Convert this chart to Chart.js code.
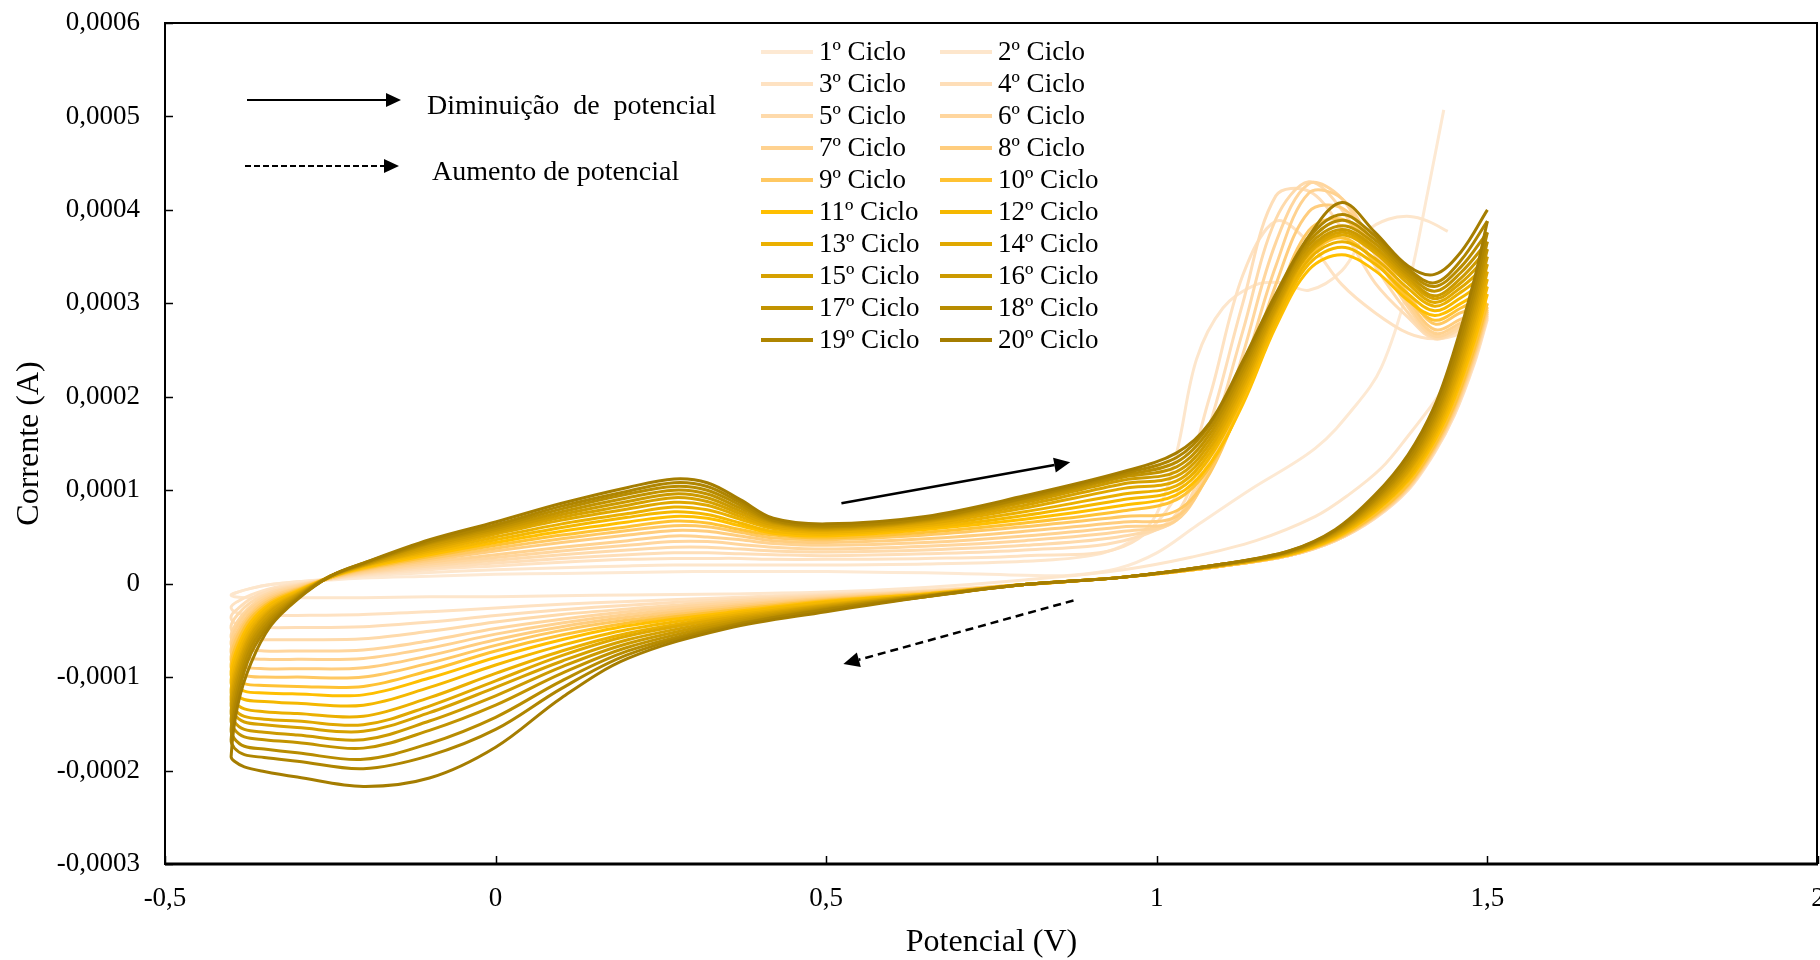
<!DOCTYPE html>
<html>
<head>
<meta charset="utf-8">
<title>Voltametria cíclica - 20 ciclos</title>
<script src="https://cdn.jsdelivr.net/npm/chart.js@4.4.1/dist/chart.umd.min.js"></script>
<style>
  html, body { margin: 0; padding: 0; background: #fff; }
  #grafico { display: block; }
</style>
</head>
<body>
<canvas id="grafico" width="1820" height="960"></canvas>
<script>
// Potenciais (V) da varredura de ida e de volta, comuns aos ciclos 3 a 20
const potencialIda = [-0.40, -0.39, -0.37, -0.34, -0.30, -0.25, -0.20, -0.10, 0.00, 0.10, 0.20, 0.27, 0.32, 0.37, 0.42, 0.50, 0.65, 0.80, 0.95, 1.03, 1.08, 1.13, 1.18, 1.23, 1.28, 1.33, 1.38, 1.42, 1.46, 1.50];
const potencialVolta = [1.50, 1.48, 1.45, 1.42, 1.38, 1.33, 1.27, 1.20, 1.10, 0.95, 0.80, 0.65, 0.50, 0.35, 0.20, 0.10, 0.00, -0.10, -0.20, -0.30, -0.35, -0.38, -0.395];

// Ciclos 1 e 2 têm pontos próprios
const potencialIda01 = [-0.40, -0.39, -0.37, -0.34, -0.30, -0.25, -0.20, -0.10, 0.00, 0.10, 0.20, 0.30, 0.40, 0.50, 0.60, 0.70, 0.80, 0.87, 0.94, 1.00, 1.06, 1.14, 1.24, 1.30, 1.34, 1.38, 1.41, 1.434];
const potencialVolta02 = [1.50, 1.48, 1.45, 1.42, 1.38, 1.34, 1.29, 1.24, 1.15, 1.05, 0.95, 0.80, 0.65, 0.50, 0.35, 0.20, 0.10, 0.00, -0.10, -0.20, -0.30, -0.35, -0.38, -0.395];
const potencialIda02 = [-0.40, -0.39, -0.37, -0.34, -0.30, -0.25, -0.20, -0.10, 0.00, 0.10, 0.20, 0.27, 0.35, 0.42, 0.50, 0.65, 0.80, 0.90, 0.96, 1.00, 1.03, 1.06, 1.10, 1.15, 1.19, 1.23, 1.28, 1.32, 1.35, 1.383, 1.41, 1.44];

// Corrente em microampères
const ida01 = [-12, -9, -5, -1, 2, 4, 6, 8, 10, 11, 12, 13, 13, 13, 12, 11, 9, 9, 16, 33, 62, 100, 145, 190, 232, 318, 420, 507];
const volta02 = [300, 268, 228, 195, 158, 124, 95, 72, 46, 28, 15, 4, -4, -9, -11, -12, -13, -14, -14, -15, -15, -15, -15, -14];
const ida02 = [-12, -9, -5, -1, 2, 5, 8, 12, 15, 17, 19, 20, 20, 20, 20, 21, 24, 30, 45, 75, 140, 240, 295, 320, 322, 314, 335, 378, 390, 393, 388, 377];

const volta03 = [283, 235, 180, 140, 100, 70, 46, 30, 19, 7, -1, -7, -11, -15, -19, -22, -26, -30, -33, -34, -34, -33, -30];
const ida03 = [-25, -19, -12, -5, 0, 5, 9, 15, 19, 23, 26, 27, 27, 27, 26, 26, 27, 30, 40, 95, 200, 330, 388, 365, 320, 290, 268, 262, 268, 285];
const volta04 = [285, 237, 181, 141, 101, 70, 46, 30, 19, 7, -1, -8, -12, -17, -23, -28, -34, -41, -46, -47, -47, -46, -42];
const ida04 = [-35, -27, -16, -7, -1, 5, 10, 17, 22, 27, 31, 33, 33, 32, 31, 30, 32, 36, 46, 75, 170, 300, 415, 420, 380, 322, 285, 262, 272, 287];
const volta05 = [287, 239, 183, 142, 102, 71, 46, 30, 19, 7, -1, -8, -13, -19, -27, -33, -41, -51, -59, -60, -60, -59, -54];
const ida05 = [-45, -33, -20, -9, -2, 5, 11, 19, 25, 31, 36, 39, 39, 37, 35, 34, 36, 41, 51, 70, 150, 270, 390, 430, 400, 340, 290, 263, 273, 289];
const volta06 = [289, 241, 184, 143, 102, 71, 46, 30, 19, 7, -1, -9, -14, -21, -30, -38, -48, -61, -71, -72, -72, -70, -64];
const ida06 = [-55, -40, -24, -11, -3, 6, 12, 21, 28, 35, 41, 45, 45, 42, 39, 37, 40, 46, 56, 68, 135, 245, 365, 428, 412, 352, 296, 265, 276, 291];
const volta07 = [291, 243, 185, 144, 103, 72, 47, 30, 19, 7, -1, -9, -15, -23, -33, -42, -54, -69, -80, -81, -81, -79, -72];
const ida07 = [-62, -45, -27, -13, -4, 6, 13, 23, 31, 39, 46, 51, 50, 47, 43, 41, 44, 51, 61, 68, 125, 225, 340, 418, 412, 358, 300, 268, 279, 293];
const volta08 = [293, 245, 187, 145, 104, 72, 47, 30, 19, 7, -1, -10, -16, -25, -36, -46, -60, -77, -90, -91, -91, -89, -82];
const ida08 = [-70, -51, -31, -15, -5, 6, 14, 25, 35, 44, 52, 57, 56, 51, 46, 44, 48, 56, 66, 72, 120, 210, 320, 398, 402, 360, 305, 272, 283, 296];
const volta09 = [296, 247, 189, 146, 105, 73, 47, 31, 19, 7, -1, -10, -17, -27, -39, -50, -66, -85, -100, -100, -100, -98, -90];
const ida09 = [-78, -56, -34, -17, -6, 6, 15, 27, 38, 48, 57, 62, 61, 55, 49, 47, 52, 61, 72, 78, 118, 200, 300, 378, 390, 358, 310, 278, 290, 300];
const volta10 = [300, 251, 191, 148, 106, 74, 48, 31, 19, 7, -1, -11, -18, -29, -42, -55, -72, -93, -110, -110, -109, -107, -99];
const ida10 = [-86, -62, -37, -19, -7, 7, 16, 29, 41, 52, 61, 67, 65, 58, 52, 49, 55, 65, 78, 90, 125, 195, 285, 350, 370, 345, 305, 282, 295, 310];
const volta11 = [310, 259, 198, 153, 110, 77, 49, 31, 20, 7, -1, -11, -19, -31, -45, -60, -79, -101, -119, -118, -117, -115, -107];
const ida11 = [-94, -68, -41, -21, -8, 7, 17, 31, 44, 56, 66, 72, 70, 62, 54, 51, 58, 69, 84, 95, 128, 192, 275, 336, 352, 335, 303, 287, 300, 318];
const volta12 = [318, 266, 203, 157, 112, 78, 50, 32, 20, 7, -1, -12, -20, -33, -49, -66, -87, -111, -130, -128, -126, -124, -116];
const ida12 = [-103, -74, -45, -23, -9, 7, 18, 33, 47, 60, 71, 77, 74, 65, 56, 53, 60, 73, 90, 100, 135, 200, 280, 342, 360, 342, 310, 292, 306, 326];
const volta13 = [326, 273, 209, 160, 115, 80, 51, 32, 20, 7, -1, -12, -22, -35, -53, -72, -96, -122, -142, -139, -137, -134, -126];
const ida13 = [-113, -81, -49, -26, -10, 7, 19, 35, 50, 64, 75, 82, 79, 69, 59, 55, 62, 77, 96, 105, 140, 205, 285, 347, 366, 348, 316, 297, 312, 334];
const volta14 = [334, 280, 214, 164, 119, 82, 52, 33, 20, 7, -1, -12, -23, -37, -56, -77, -104, -131, -151, -147, -145, -142, -134];
const ida14 = [-121, -87, -53, -28, -11, 7, 19, 37, 53, 68, 80, 87, 84, 72, 61, 57, 64, 81, 102, 110, 145, 210, 290, 353, 373, 354, 321, 301, 317, 342];
const volta15 = [342, 287, 219, 168, 121, 84, 53, 33, 20, 7, -1, -13, -24, -39, -60, -83, -111, -138, -158, -154, -151, -148, -140];
const ida15 = [-128, -92, -56, -30, -12, 8, 20, 39, 55, 71, 84, 92, 88, 75, 63, 58, 66, 84, 107, 115, 150, 215, 293, 355, 376, 357, 325, 305, 322, 350];
const volta16 = [350, 294, 225, 172, 124, 86, 54, 33, 20, 7, -1, -13, -25, -41, -64, -89, -120, -147, -167, -162, -159, -156, -148];
const ida16 = [-136, -98, -60, -33, -13, 8, 20, 41, 57, 74, 88, 96, 92, 78, 65, 59, 67, 87, 111, 120, 155, 220, 296, 358, 379, 360, 328, 308, 327, 358];
const volta17 = [358, 301, 230, 176, 127, 88, 55, 34, 21, 7, -1, -13, -26, -43, -68, -96, -130, -157, -176, -170, -167, -164, -156];
const ida17 = [-145, -104, -64, -36, -14, 8, 21, 43, 59, 77, 92, 100, 96, 81, 66, 60, 68, 89, 114, 125, 160, 225, 300, 362, 383, 364, 331, 313, 333, 366];
const volta18 = [366, 308, 235, 180, 130, 90, 56, 34, 21, 7, -1, -14, -27, -45, -72, -104, -143, -171, -188, -181, -177, -174, -166];
const ida18 = [-156, -112, -69, -39, -15, 8, 21, 44, 61, 80, 96, 104, 100, 84, 67, 61, 69, 91, 116, 130, 165, 230, 304, 366, 389, 368, 334, 318, 339, 376];
const volta19 = [376, 316, 242, 185, 134, 92, 57, 35, 21, 7, -1, -14, -28, -46, -76, -112, -156, -184, -198, -190, -186, -183, -176];
const ida19 = [-167, -120, -75, -42, -16, 8, 22, 45, 63, 83, 99, 108, 104, 87, 68, 62, 70, 92, 118, 135, 170, 235, 306, 370, 395, 372, 337, 322, 346, 388];
const volta20 = [388, 325, 250, 190, 138, 95, 58, 35, 21, 7, -1, -14, -30, -48, -80, -122, -175, -208, -217, -207, -201, -196, -190];
const ida20 = [-185, -130, -85, -45, -17, 8, 22, 47, 66, 86, 103, 112, 108, 90, 70, 64, 72, 94, 120, 140, 172, 238, 310, 372, 408, 376, 340, 331, 355, 400];

const rotulos = ['1º Ciclo', '2º Ciclo', '3º Ciclo', '4º Ciclo', '5º Ciclo', '6º Ciclo', '7º Ciclo', '8º Ciclo', '9º Ciclo', '10º Ciclo',
  '11º Ciclo', '12º Ciclo', '13º Ciclo', '14º Ciclo', '15º Ciclo', '16º Ciclo', '17º Ciclo', '18º Ciclo', '19º Ciclo', '20º Ciclo'];
const cores = ['#FDE9D3', '#FDE6CC', '#FEE2C2', '#FEDEB8', '#FEDAAB', '#FFD69E', '#FFD290', '#FFCD7E', '#FFC862', '#FFC233',
  '#FFBF00', '#F5B800', '#EBB000', '#E0A800', '#D6A100', '#CC9A00', '#C29300', '#B88C00', '#AF8500', '#A57D00'];

const yTicks = [-0.0003, -0.0002, -0.0001, 0, 0.0001, 0.0002, 0.0003, 0.0004, 0.0005, 0.0006];
const xTicks = [-0.5, 0, 0.5, 1, 1.5, 2];

// setas de sentido da varredura, em coordenadas do gráfico (V, µA)
const setaIda = { de: [0.523, 86], ate: [0.869, 130] };
const setaVolta = { de: [0.874, -18], ate: [0.526, -86] };

// cada ciclo = volta (quando existe) seguida da ida
const ciclos = [
  [[potencialIda01, ida01]],
  [[potencialVolta02, volta02], [potencialIda02, ida02]],
  [[potencialVolta, volta03], [potencialIda, ida03]],
  [[potencialVolta, volta04], [potencialIda, ida04]],
  [[potencialVolta, volta05], [potencialIda, ida05]],
  [[potencialVolta, volta06], [potencialIda, ida06]],
  [[potencialVolta, volta07], [potencialIda, ida07]],
  [[potencialVolta, volta08], [potencialIda, ida08]],
  [[potencialVolta, volta09], [potencialIda, ida09]],
  [[potencialVolta, volta10], [potencialIda, ida10]],
  [[potencialVolta, volta11], [potencialIda, ida11]],
  [[potencialVolta, volta12], [potencialIda, ida12]],
  [[potencialVolta, volta13], [potencialIda, ida13]],
  [[potencialVolta, volta14], [potencialIda, ida14]],
  [[potencialVolta, volta15], [potencialIda, ida15]],
  [[potencialVolta, volta16], [potencialIda, ida16]],
  [[potencialVolta, volta17], [potencialIda, ida17]],
  [[potencialVolta, volta18], [potencialIda, ida18]],
  [[potencialVolta, volta19], [potencialIda, ida19]],
  [[potencialVolta, volta20], [potencialIda, ida20]]
];

function pontos(trechos) {
  const out = [];
  trechos.forEach(([xs, ys]) => xs.forEach((x, i) => out.push({ x: x, y: ys[i] * 1e-6 })));
  return out;
}

const datasets = ciclos.map((trechos, i) => ({
  label: rotulos[i],
  data: pontos(trechos),
  borderColor: cores[i],
  backgroundColor: cores[i],
  showLine: true,
  fill: false,
  pointRadius: 0,
  borderWidth: 3,
  tension: 0.35,
  order: ciclos.length - 1 - i
}));

const FONTE = 'Liberation Serif, "Times New Roman", serif';

function seta(ctx, x1, y1, x2, y2, tam, larg) {
  const ang = Math.atan2(y2 - y1, x2 - x1);
  const bx = x2 - Math.cos(ang) * tam, by = y2 - Math.sin(ang) * tam;
  ctx.beginPath();
  ctx.moveTo(x1, y1);
  ctx.lineTo(bx, by);
  ctx.stroke();
  ctx.save();
  ctx.setLineDash([]);
  ctx.beginPath();
  ctx.moveTo(x2, y2);
  ctx.lineTo(bx + Math.sin(ang) * larg / 2, by - Math.cos(ang) * larg / 2);
  ctx.lineTo(bx - Math.sin(ang) * larg / 2, by + Math.cos(ang) * larg / 2);
  ctx.closePath();
  ctx.fill();
  ctx.restore();
}

const moldura = {
  id: 'moldura',
  afterDraw(chart) {
    const { ctx, chartArea: a, scales: { x, y } } = chart;
    ctx.save();
    ctx.strokeStyle = '#000';
    ctx.fillStyle = '#000';

    // caixa da área do gráfico
    ctx.lineWidth = 2;
    ctx.strokeRect(a.left, a.top, a.right - a.left - 1, a.bottom - a.top);
    ctx.lineWidth = 3;
    ctx.beginPath();
    ctx.moveTo(a.left, a.bottom);
    ctx.lineTo(a.right, a.bottom);
    ctx.stroke();

    // marcas de escala para dentro
    ctx.lineWidth = 1.5;
    xTicks.forEach(v => {
      const px = Math.round(x.getPixelForValue(v)) + 0.5;
      ctx.beginPath();
      ctx.moveTo(px, a.bottom);
      ctx.lineTo(px, a.bottom - 8);
      ctx.stroke();
    });
    yTicks.forEach(v => {
      const py = Math.round(y.getPixelForValue(v)) + 0.5;
      ctx.beginPath();
      ctx.moveTo(a.left, py);
      ctx.lineTo(a.left + 8, py);
      ctx.stroke();
    });

    // setas dentro do gráfico
    ctx.lineWidth = 2.5;
    seta(ctx, x.getPixelForValue(setaIda.de[0]), y.getPixelForValue(setaIda.de[1] * 1e-6),
      x.getPixelForValue(setaIda.ate[0]), y.getPixelForValue(setaIda.ate[1] * 1e-6), 16, 15);
    ctx.setLineDash([8, 5]);
    seta(ctx, x.getPixelForValue(setaVolta.de[0]), y.getPixelForValue(setaVolta.de[1] * 1e-6),
      x.getPixelForValue(setaVolta.ate[0]), y.getPixelForValue(setaVolta.ate[1] * 1e-6), 16, 15);
    ctx.setLineDash([]);

    // quadro explicativo das setas
    ctx.lineWidth = 2;
    seta(ctx, 247, 100, 401, 100, 15, 14);
    ctx.setLineDash([6, 3]);
    seta(ctx, 245, 166, 399, 166, 15, 14);
    ctx.setLineDash([]);
    ctx.font = '28px ' + FONTE;
    ctx.textBaseline = 'middle';
    ctx.textAlign = 'left';
    ctx.fillText('Diminuição  de  potencial', 427, 107);
    ctx.fillText('Aumento de potencial', 432, 173);

    // legenda em duas colunas
    ctx.font = '27px ' + FONTE;
    ctx.lineWidth = 4;
    chart.data.datasets.forEach((ds, i) => {
      const col = i % 2, lin = Math.floor(i / 2);
      const yy = 52 + lin * 32;
      const x0 = col === 0 ? 761 : 940;
      ctx.strokeStyle = ds.borderColor;
      ctx.beginPath();
      ctx.moveTo(x0, yy);
      ctx.lineTo(x0 + 52, yy);
      ctx.stroke();
      ctx.fillStyle = '#000';
      ctx.fillText(ds.label, x0 + 58, yy + 1);
    });
    ctx.restore();
  }
};

function virgula(v, casas) {
  if (Math.abs(v) < 1e-12) return '0';
  return (casas ? v.toFixed(casas) : String(+v.toFixed(2))).replace('.', ',');
}

// sem folga extra para rótulos nas bordas: a área do gráfico fica só com o padding do layout
function semFolga(s) {
  s.paddingTop = 0;
  s.paddingBottom = 0;
  s.paddingLeft = 0;
  s.paddingRight = 0;
}

new Chart(document.getElementById('grafico'), {
  type: 'scatter',
  data: { datasets },
  options: {
    responsive: false,
    animation: false,
    events: [],
    layout: { padding: { top: 23, right: 2, left: 0, bottom: 0 } },
    plugins: { legend: { display: false }, tooltip: { enabled: false } },
    scales: {
      x: {
        type: 'linear',
        min: -0.5, max: 2,
        afterFit(s) { s.height = 96; semFolga(s); },
        afterBuildTicks(s) { s.ticks = xTicks.map(v => ({ value: v })); },
        grid: { display: false, drawTicks: false },
        border: { display: false },
        ticks: {
          padding: 19,
          color: '#000',
          font: { family: FONTE, size: 27 },
          maxRotation: 0,
          callback: v => virgula(v, 0)
        },
        title: {
          display: true,
          text: 'Potencial (V)',
          color: '#000',
          font: { family: FONTE, size: 32, lineHeight: 1.1 },
          padding: { top: 0, bottom: 0 }
        }
      },
      y: {
        type: 'linear',
        min: -0.0003, max: 0.0006,
        afterFit(s) { s.width = 165; semFolga(s); },
        afterBuildTicks(s) { s.ticks = yTicks.map(v => ({ value: v })); },
        grid: { display: false, drawTicks: false },
        border: { display: false },
        ticks: {
          padding: 25,
          color: '#000',
          font: { family: FONTE, size: 27 },
          callback: v => virgula(v, 4)
        },
        title: {
          display: true,
          text: 'Corrente (A)',
          color: '#000',
          font: { family: FONTE, size: 32 },
          padding: { top: 10, bottom: 0 }
        }
      }
    }
  },
  plugins: [moldura]
});
</script>
</body>
</html>
